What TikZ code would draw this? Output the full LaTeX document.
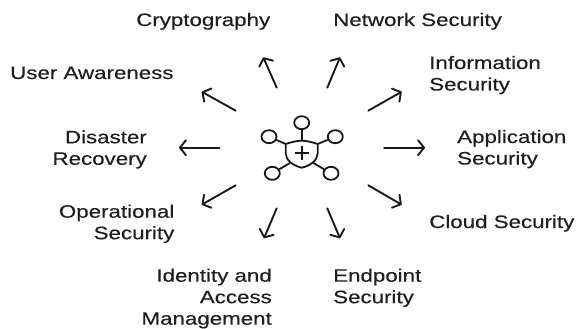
\documentclass[tikz,border=0pt]{standalone}
\usepackage{fontspec}
\setmainfont[FakeStretch=1.24,FakeBold=0.35]{Liberation Sans}
\usetikzlibrary{arrows.meta,shapes.geometric}
\tikzset{
  x=1pt,y=-1pt,
  lbl/.style={inner sep=0pt,font=\fontsize{18}{21.5}\selectfont,text=black!88},
  lblL/.style={lbl,anchor=base west,align=left},
  lblR/.style={lbl,anchor=base east,align=right},
  spoke/.style={draw=black!90,line width=1.9pt,line cap=round,-{Straight Barb[length=6pt,width=15pt,line width=1.9pt,round]}},
  ico/.style={draw=black!90,line width=1.8pt},
  hub/.style={ico,ellipse,inner sep=0pt,minimum width=15pt,minimum height=13pt}
}
\begin{document}
\begin{tikzpicture}
\useasboundingbox (0,0) rectangle (576,329);
\node[lblL] (crypto) at (136,26) {Cryptography};
\node[lblL] (net) at (333,26) {Network Security};
\node[lblL] (info) at (429,90.5) {Information\\Security};
\node[lblL] (app) at (457,164.5) {Application\\Security};
\node[lblL] (cloud) at (429,228) {Cloud Security};
\node[lblL] (end) at (333,303.2) {Endpoint\\Security};
\node[lblR] (iam) at (272,324.7) {Identity and\\Access\\Management};
\node[lblR] (oper) at (174.5,239.2) {Operational\\Security};
\node[lblR] (dis) at (147,164.8) {Disaster\\Recovery};
\node[lblL] (user) at (10,79) {User Awareness};
\coordinate (a1t) at (276.7,87.7); \coordinate (a1h) at (263.3,57.3);
\coordinate (a2t) at (327.3,87.7); \coordinate (a2h) at (340,57.3);
\coordinate (a3t) at (368.3,110.7); \coordinate (a3h) at (401.7,91.7);
\coordinate (a4t) at (384,147.7); \coordinate (a4h) at (425,147.7);
\coordinate (a5t) at (368.3,185.3); \coordinate (a5h) at (401.7,204.7);
\coordinate (a6t) at (327.3,208.3); \coordinate (a6h) at (340,238.3);
\coordinate (a7t) at (276.7,208.3); \coordinate (a7h) at (264,238.3);
\coordinate (a8t) at (235.7,185.3); \coordinate (a8h) at (201.7,204.7);
\coordinate (a9t) at (219.3,147.7); \coordinate (a9h) at (179,147.7);
\coordinate (a10t) at (235.7,110.7); \coordinate (a10h) at (201.7,91.7);
\foreach \i in {1,...,10} \draw[spoke] (a\i t) -- (a\i h);
% icon
\node[hub] (h1) at (301.7,122.7) {};
\node[hub] (h2) at (269,136.7) {};
\node[hub] (h3) at (335.3,136.7) {};
\node[hub] (h4) at (272.3,173.3) {};
\node[hub] (h5) at (331,173.3) {};
\coordinate (s1) at (301.7,140.7);
\coordinate (s2) at (285.7,144);
\coordinate (s3) at (317.7,144);
\coordinate (s4) at (290,163);
\coordinate (s5) at (313.4,163);
\draw[ico,line join=round] (s2) .. controls (292,142) and (297,140.7) .. (s1)
  .. controls (306.4,140.7) and (311.4,142) .. (s3)
  -- (317.7,153) .. controls (317.7,160) and (311,165.5) .. (301.7,167.7)
  .. controls (292.4,165.5) and (285.7,160) .. (285.7,153) -- cycle;
\draw[ico] (h1) -- (s1);
\draw[ico] (h2) -- (s2);
\draw[ico] (h3) -- (s3);
\draw[ico] (h4) -- (s4);
\draw[ico] (h5) -- (s5);
\coordinate (pl) at (294.7,153.3); \coordinate (pr) at (308.7,153.3);
\coordinate (pt) at (301.7,146.3); \coordinate (pb) at (301.7,160.3);
\draw[ico] (pl) -- (pr);
\draw[ico] (pt) -- (pb);
\end{tikzpicture}
\end{document}
